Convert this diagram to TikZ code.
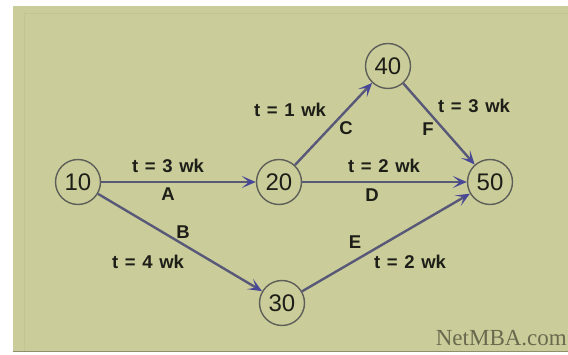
\documentclass[tikz,border=0pt]{standalone}
\usepackage{fontspec}
\setmainfont{Liberation Sans}
\newfontfamily\lblfont[WordSpace=1.3]{Liberation Sans}
\newfontfamily\netfont{Liberation Serif}
\usetikzlibrary{arrows.meta}
\definecolor{bgolive}{RGB}{202,205,153}
\definecolor{edgecol}{RGB}{88,88,120}
\definecolor{tipcol}{RGB}{72,72,150}
\definecolor{circcol}{RGB}{95,95,90}
\definecolor{txtcol}{RGB}{30,30,25}
\definecolor{netcol}{RGB}{105,105,78}
\tikzset{
  event/.style={circle, draw=circcol, line width=1.4pt, minimum size=45pt, inner sep=0pt,
    font=\fontsize{24}{26}\selectfont, text=txtcol},
  act/.style={draw=edgecol, line width=2.4pt,
    -{Stealth[length=14pt,width=12pt,inset=7pt,color=tipcol]}},
  lbl/.style={font=\lblfont\bfseries\fontsize{18.5}{20}\selectfont, text=txtcol, inner sep=0pt}
}
\begin{document}
\begin{tikzpicture}[x=1pt,y=-1pt]
\useasboundingbox (0,0) rectangle (568,355);
\fill[bgolive] (13,6) rectangle (568,352);
\draw[bgolive!96!black, line width=0.5pt] (24,13) -- (568,13);
\draw[bgolive!96!black, line width=0.5pt] (24,13) -- (24,352);
\draw[bgolive!70!black, line width=1.2pt] (13,351.5) -- (568,351.5);

\node[event] (n10) at (78,182) {10};
\node[event] (n20) at (279,182) {20};
\node[event] (n40) at (388,66) {40};
\node[event] (n50) at (490,182) {50};
\node[event] (n30) at (282,303) {30};

\draw[act] (n10) -- (n20);
\draw[act] (n10) -- (n30);
\draw[act] (n20) -- (n40);
\draw[act] (n20) -- (n50);
\draw[act] (n30) -- (n50);
\draw[act] (n40) -- (n50);

\node[lbl] (la1) at (168,166) {t = 3 wk};
\node[lbl] (la2) at (168,194) {A};
\node[lbl] (ld1) at (384,166) {t = 2 wk};
\node[lbl] (ld2) at (372,195) {D};
\node[lbl] (lc1) at (290,110) {t = 1 wk};
\node[lbl] (lc2) at (346,128) {C};
\node[lbl] (lf1) at (474,106) {t = 3 wk};
\node[lbl] (lf2) at (428,129) {F};
\node[lbl] (lb2) at (183,232) {B};
\node[lbl] (lb1) at (148,262) {t = 4 wk};
\node[lbl] (le2) at (355,242) {E};
\node[lbl] (le1) at (410,262) {t = 2 wk};

\node[font=\netfont\fontsize{23}{25}\selectfont, text=netcol, anchor=base east, inner sep=0pt] (net) at (567,346) {NetMBA.com};
\end{tikzpicture}
\end{document}
